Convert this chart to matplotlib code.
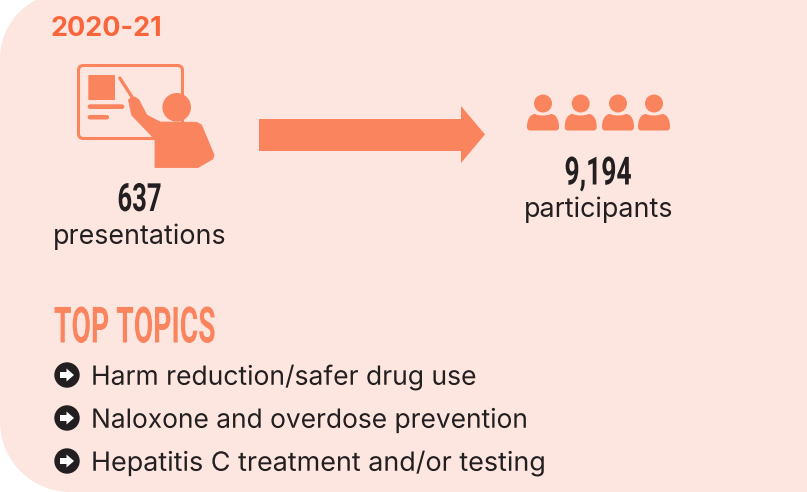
#!/usr/bin/env python3
import matplotlib
matplotlib.use('Agg')
import matplotlib.pyplot as plt
from matplotlib.patches import Circle, FancyBboxPatch, Polygon, PathPatch
from matplotlib.path import Path
from matplotlib.patheffects import AbstractPathEffect
from matplotlib.transforms import Affine2D

year = '2020-21'
presentations = '637'
presentations_label = 'presentations'
participants = '9,194'
participants_label = 'participants'
topics_title = 'TOP TOPICS'
topics = ['Harm reduction/safer drug use',
          'Naloxone and overdose prevention',
          'Hepatitis C treatment and/or testing']

BG = '#fee6e0'
ICON = '#f9845e'
TITLE = '#f8653a'
DARK = '#231f20'
W, H = 807, 492

fig = plt.figure(figsize=(W / 100, H / 100), dpi=100)
ax = fig.add_axes([0, 0, 1, 1])
ax.set_xlim(0, W)
ax.set_ylim(H, 0)
ax.axis('off')


class Squeeze(AbstractPathEffect):
    # no condensed font installed, so narrow the glyphs around the anchor
    def __init__(self, x, sx):
        super().__init__()
        self.x = x
        self.sx = sx

    def draw_path(self, renderer, gc, tpath, affine, rgbFace=None):
        squeeze = Affine2D().translate(-self.x, 0).scale(self.sx, 1).translate(self.x, 0)
        renderer.draw_path(gc, tpath, affine + squeeze, rgbFace)


def condensed(x, y, s, size, sx, color, ha):
    t = ax.text(x, y, s, color=color, fontsize=size, fontweight='bold', family='Roboto',
                ha=ha, va='center')
    t.set_path_effects([Squeeze(x, sx)])


# panel, square on the right, rounded on the left (top corner is cut off by the crop)
r = 70
k = 0.55 * r
verts = [(W, 0), (36, 0), (14, 11), (0, 33.5), (0, 58), (0, H - r), (0, H - r + k),
         (r - k, H), (r, H), (W, H), (W, 0)]
codes = [Path.MOVETO, Path.LINETO, Path.CURVE4, Path.CURVE4, Path.CURVE4, Path.LINETO,
         Path.CURVE4, Path.CURVE4, Path.CURVE4, Path.LINETO, Path.CLOSEPOLY]
ax.add_patch(PathPatch(Path(verts, codes), fc=BG, ec='none'))


def bar(x0, y0, x1, y1, rad=1.5):
    ax.add_patch(FancyBboxPatch((x0 + rad, y0 + rad), x1 - x0 - 2 * rad, y1 - y0 - 2 * rad,
                                boxstyle='round,pad=%g' % rad, fc=ICON, ec='none'))


# presenter icon
ax.add_patch(FancyBboxPatch((80, 67), 101, 70, boxstyle='round,pad=1.5,rounding_size=5',
                            fc='none', ec=ICON, lw=2.2))
bar(88.3, 75, 115, 100, 1)
bar(87.7, 104.3, 124.3, 109, 2.3)
bar(87.7, 115, 109, 119.5, 2.2)
ax.plot([119.8, 132], [78, 97], color=ICON, lw=2.4, solid_capstyle='round')
ax.add_patch(Circle((176.7, 107.3), 14.3, fc=ICON, ec='none'))
body = [(128.5, 100), (131, 97.5), (135, 97), (139, 100), (146.7, 115), (160, 122), (196.7, 122.3),
        (201.5, 125), (214, 155), (212.7, 159), (198, 167.5), (155, 167.5), (155, 140),
        (151.7, 136), (131.7, 115)]
ax.add_patch(Polygon(body, closed=True, fc=ICON, ec=ICON, lw=0.6, joinstyle='round'))

# big arrow
ax.add_patch(Polygon([(259, 119), (461, 119), (461, 106), (485, 134.5), (461, 163),
                      (461, 151), (259, 151)], closed=True, fc=ICON, ec='none'))

# people icons
for cx in [543, 580.7, 618, 654]:
    ax.add_patch(Circle((cx, 103.5), 9, fc=ICON, ec='none'))
    x0, x1 = cx - 16, cx + 16
    p = [(x0, 127), (x0, 118), (cx - 12, 114), (cx - 8, 114), (cx - 4, 116), (cx + 4, 116), (cx + 8, 114),
         (cx + 12, 114), (x1, 118), (x1, 127), (x1, 129), (x1 - 1, 130.5), (x1 - 3, 130.5),
         (x0 + 3, 130.5), (x0 + 1, 130.5), (x0, 129), (x0, 127)]
    c = [Path.MOVETO, Path.CURVE4, Path.CURVE4, Path.CURVE4, Path.CURVE4, Path.CURVE4, Path.CURVE4,
         Path.CURVE4, Path.CURVE4, Path.CURVE4, Path.CURVE4, Path.CURVE4, Path.CURVE4,
         Path.LINETO, Path.CURVE4, Path.CURVE4, Path.CURVE4]
    ax.add_patch(PathPatch(Path(p, c), fc=ICON, ec='none'))

ax.text(51, 29, year, color=TITLE, fontsize=19.4, fontweight='bold', family='Inter',
        ha='left', va='center')
condensed(139.5, 200.5, presentations, 28, 0.66, DARK, 'center')
ax.text(140, 237, presentations_label, color=DARK, fontsize=19.3, family='Inter',
        ha='center', va='center')
condensed(598, 174, participants, 28, 0.68, DARK, 'center')
ax.text(598.5, 209.5, participants_label, color=DARK, fontsize=19.3, family='Inter',
        ha='center', va='center')
condensed(54, 329, topics_title, 36, 0.565, ICON, 'left')

# bullet list, widths nudged line by line
for y, topic, sx in zip([375, 418, 461], topics, [1.0, 0.995, 1.018]):
    ax.add_patch(Circle((67, y), 12.7, fc=DARK, ec='none'))
    ax.add_patch(Polygon([(60, y - 3), (66.5, y - 3), (66.5, y - 6.5), (74, y), (66.5, y + 6.5),
                          (66.5, y + 3), (60, y + 3)], closed=True, fc='white', ec='none'))
    t = ax.text(91, y + 2.5, topic, color=DARK, fontsize=19.05, family='Inter', ha='left', va='center')
    t.set_path_effects([Squeeze(91, sx)])

fig.savefig('out.png', dpi=100, facecolor='white')
